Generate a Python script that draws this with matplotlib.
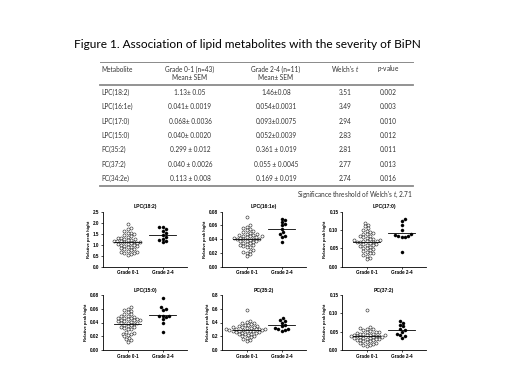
import numpy as np
import matplotlib
matplotlib.use("Agg")
import matplotlib.pyplot as plt
from matplotlib.lines import Line2D

plt.rcParams['mathtext.fontset'] = 'custom'
plt.rcParams['mathtext.rm'] = 'Lato'
plt.rcParams['mathtext.it'] = 'Lato:italic'

W, H = 520, 390

# ---- table data ----
metabolites = ["LPC(18:2)", "LPC(16:1e)", "LPC(17:0)", "LPC(15:0)", "PC(35:2)", "PC(37:2)", "PC(34:2e)"]
grade01_txt = ["1.13\u00b1 0.05", "0.041\u00b1 0.0019", "0.068\u00b1 0.0036", "0.040\u00b1 0.0020",
               "0.299 \u00b1 0.012", "0.040 \u00b1 0.0026", "0.113 \u00b1 0.008"]
grade24_txt = ["1.46\u00b10.08", "0.054\u00b10.0031", "0.093\u00b10.0075", "0.052\u00b10.0039",
               "0.361 \u00b1 0.019", "0.055 \u00b1 0.0045", "0.169 \u00b1 0.019"]
welch_t = ["3.51", "3.49", "2.94", "2.83", "2.81", "2.77", "2.74"]
p_values = ["0.002", "0.003", "0.010", "0.012", "0.011", "0.013", "0.016"]

# ---- scatter data ----
panel_titles = ["LPC(18:2)", "LPC(16:1e)", "LPC(17:0)", "LPC(15:0)", "PC(35:2)", "PC(37:2)"]
yticks = [[0.0, 0.5, 1.0, 1.5, 2.0, 2.5],
          [0.00, 0.02, 0.04, 0.06, 0.08],
          [0.00, 0.05, 0.10, 0.15],
          [0.00, 0.02, 0.04, 0.06, 0.08],
          [0.0, 0.2, 0.4, 0.6, 0.8],
          [0.00, 0.05, 0.10, 0.15]]
ytick_fmt = ["%.1f", "%.2f", "%.2f", "%.2f", "%.1f", "%.2f"]

g01 = [
    [1.95, 1.78, 1.70, 1.62, 1.55, 1.52, 1.48, 1.42, 1.38, 1.35, 1.32, 1.30, 1.27, 1.25, 1.22,
     1.20, 1.18, 1.16, 1.15, 1.13, 1.12, 1.10, 1.08, 1.06, 1.05, 1.02, 1.00, 0.98, 0.95, 0.92,
     0.90, 0.88, 0.85, 0.82, 0.80, 0.75, 0.72, 0.68, 0.65, 0.62, 0.60, 0.57, 0.55],
    [0.072, 0.060, 0.058, 0.056, 0.055, 0.053, 0.052, 0.050, 0.049, 0.048, 0.047, 0.046, 0.045,
     0.044, 0.043, 0.043, 0.042, 0.042, 0.041, 0.040, 0.040, 0.039, 0.038, 0.038, 0.037, 0.036,
     0.035, 0.034, 0.033, 0.032, 0.031, 0.030, 0.029, 0.028, 0.041, 0.044, 0.046, 0.024, 0.023,
     0.022, 0.020, 0.018, 0.015],
    [0.120, 0.115, 0.110, 0.105, 0.100, 0.097, 0.095, 0.092, 0.090, 0.088, 0.085, 0.083, 0.080,
     0.078, 0.076, 0.075, 0.073, 0.072, 0.071, 0.070, 0.069, 0.068, 0.067, 0.066, 0.065, 0.063,
     0.061, 0.060, 0.058, 0.056, 0.055, 0.052, 0.050, 0.048, 0.045, 0.043, 0.040, 0.038, 0.036,
     0.033, 0.030, 0.025, 0.020],
    [0.062, 0.060, 0.058, 0.057, 0.055, 0.053, 0.052, 0.050, 0.049, 0.048, 0.047, 0.046, 0.045,
     0.044, 0.043, 0.042, 0.042, 0.041, 0.040, 0.040, 0.039, 0.038, 0.037, 0.036, 0.035, 0.034,
     0.033, 0.032, 0.031, 0.030, 0.043, 0.045, 0.047, 0.026, 0.025, 0.024, 0.023, 0.022, 0.020,
     0.018, 0.016, 0.014, 0.012],
    [0.58, 0.42, 0.41, 0.40, 0.39, 0.38, 0.37, 0.36, 0.35, 0.35, 0.34, 0.33, 0.33, 0.32, 0.32,
     0.31, 0.31, 0.30, 0.30, 0.30, 0.29, 0.29, 0.29, 0.28, 0.28, 0.28, 0.27, 0.27, 0.26, 0.26,
     0.25, 0.25, 0.24, 0.23, 0.23, 0.22, 0.21, 0.20, 0.19, 0.18, 0.16, 0.15, 0.13],
    [0.110, 0.062, 0.060, 0.058, 0.056, 0.054, 0.052, 0.050, 0.049, 0.048, 0.046, 0.045, 0.044,
     0.043, 0.042, 0.041, 0.040, 0.040, 0.039, 0.038, 0.037, 0.037, 0.036, 0.035, 0.035, 0.034,
     0.033, 0.032, 0.031, 0.030, 0.029, 0.028, 0.027, 0.026, 0.025, 0.024, 0.022, 0.020, 0.018,
     0.016, 0.015, 0.013, 0.012],
]
g24 = [
    [1.82, 1.82, 1.72, 1.60, 1.55, 1.45, 1.35, 1.25, 1.20, 1.15, 1.10],
    [0.070, 0.068, 0.065, 0.062, 0.060, 0.055, 0.050, 0.047, 0.045, 0.043, 0.036],
    [0.130, 0.125, 0.115, 0.100, 0.088, 0.087, 0.085, 0.084, 0.082, 0.080, 0.040],
    [0.075, 0.062, 0.060, 0.058, 0.050, 0.050, 0.050, 0.048, 0.045, 0.040, 0.026],
    [0.47, 0.44, 0.42, 0.40, 0.37, 0.35, 0.32, 0.31, 0.30, 0.29, 0.28],
    [0.080, 0.075, 0.068, 0.065, 0.058, 0.055, 0.050, 0.045, 0.040, 0.038, 0.032],
]
groups = ["Grade 0-1", "Grade 2-4"]

fig = plt.figure(figsize=(W / 100, H / 100), dpi=100)


def fx(x):
    return x / W


def fy(y):
    return 1 - y / H


tcol = '#333333'
tfont = dict(family=['Lato', 'DejaVu Sans'], color=tcol)

fig.text(fx(247), fy(45), "Figure 1. Association of lipid metabolites with the severity of BiPN",
         ha='center', va='center', fontsize=8.6, family=['Lato', 'DejaVu Sans'], color='black')

# table rules
for y, lw in [(62, 0.7), (85, 1.3), (186, 1.3)]:
    fig.add_artist(Line2D([fx(100), fx(413)], [fy(y), fy(y)], transform=fig.transFigure,
                          color='#8a8a8a', lw=lw))

cx = [101, 190, 276, 345, 388]
fs = 4.7
fig.text(fx(cx[0]), fy(69), "Metabolite", ha='left', va='center', fontsize=fs, **tfont)
fig.text(fx(cx[1]), fy(69), "Grade 0-1 (n=43)", ha='center', va='center', fontsize=fs, **tfont)
fig.text(fx(cx[1]), fy(77.5), "Mean\u00b1 SEM", ha='center', va='center', fontsize=fs, **tfont)
fig.text(fx(cx[2]), fy(69), "Grade 2-4 (n=11)", ha='center', va='center', fontsize=fs, **tfont)
fig.text(fx(cx[2]), fy(77.5), "Mean\u00b1 SEM", ha='center', va='center', fontsize=fs, **tfont)
fig.text(fx(cx[3]), fy(69), "Welch's $\\it{t}$", ha='center', va='center', fontsize=fs, **tfont)
fig.text(fx(cx[4]), fy(69), "$\\it{p}$-value", ha='center', va='center', fontsize=fs, **tfont)

row_y = [92.3, 106.7, 121, 135.3, 149.7, 164, 178.3]
for i, ry in enumerate(row_y):
    fig.text(fx(cx[0]), fy(ry), metabolites[i], ha='left', va='center', fontsize=fs, **tfont)
    fig.text(fx(cx[1]), fy(ry), grade01_txt[i], ha='center', va='center', fontsize=fs, **tfont)
    fig.text(fx(cx[2]), fy(ry), grade24_txt[i], ha='center', va='center', fontsize=fs, **tfont)
    fig.text(fx(cx[3]), fy(ry), welch_t[i], ha='center', va='center', fontsize=fs, **tfont)
    fig.text(fx(cx[4]), fy(ry), p_values[i], ha='center', va='center', fontsize=fs, **tfont)

fig.text(fx(413), fy(195), "Significance threshold of Welch's $\\it{t}$, 2.71",
         ha='right', va='center', fontsize=fs, **tfont)

# ---- dot plots ----
ax_w, ax_h = 84, 55
lefts = [103, 222, 342]
bottoms = [266.7, 350]
px_per_unit = ax_w / 2.4
dot = 3.1


def swarm(vals, ymax):
    vals = np.asarray(vals)
    ypx = vals / ymax * ax_h
    placed = []
    xs = np.zeros(len(vals))
    for i in np.argsort(vals):
        y = ypx[i]
        k = 0
        while True:
            cands = [0.0] if k == 0 else [k * dot * 0.5, -k * dot * 0.5]
            ok = None
            for x in cands:
                if all((x - a) ** 2 + (y - b) ** 2 >= dot * dot for a, b in placed):
                    ok = x
                    break
            if ok is not None:
                placed.append((ok, y))
                xs[i] = ok
                break
            k += 1
    return xs / px_per_unit


lab = dict(family=['Liberation Sans', 'DejaVu Sans'], fontweight='bold')
for p in range(6):
    r, c = divmod(p, 3)
    ax = fig.add_axes([fx(lefts[c]), fy(bottoms[r]), ax_w / W, ax_h / H])
    ymax = yticks[p][-1]
    for gi, vals in enumerate([g01[p], g24[p]]):
        xs = gi + 1 + swarm(vals, ymax)
        if gi == 0:
            ax.plot(xs, vals, 'o', ms=2.2, mfc='white', mec='#222222', mew=0.4, ls='none', zorder=3)
        else:
            ax.plot(xs, vals, 'o', ms=2.2, mfc='black', mec='black', mew=0.3, ls='none', zorder=3)
        m = np.mean(vals)
        ax.plot([gi + 1 - 0.38, gi + 1 + 0.38], [m, m], color='black', lw=0.6, zorder=4)
    ax.set_xlim(0.3, 2.7)
    ax.set_ylim(0, ymax)
    ax.set_xticks([1, 2])
    ax.set_xticklabels(groups, fontsize=3.3, **lab)
    ax.set_yticks(yticks[p])
    ax.set_yticklabels([ytick_fmt[p] % v for v in yticks[p]], fontsize=3.3, **lab)
    ax.tick_params(length=1.6, width=0.5, pad=1)
    for s in ['top', 'right']:
        ax.spines[s].set_visible(False)
    for s in ['left', 'bottom']:
        ax.spines[s].set_linewidth(0.6)
    ax.set_ylabel("Relative peak hight", fontsize=3.0, labelpad=1.5, **lab)
    ax.set_title(panel_titles[p], fontsize=3.6, pad=2.5, **lab)
    ax.patch.set_visible(False)

fig.savefig("out.png", dpi=100, facecolor='white')
